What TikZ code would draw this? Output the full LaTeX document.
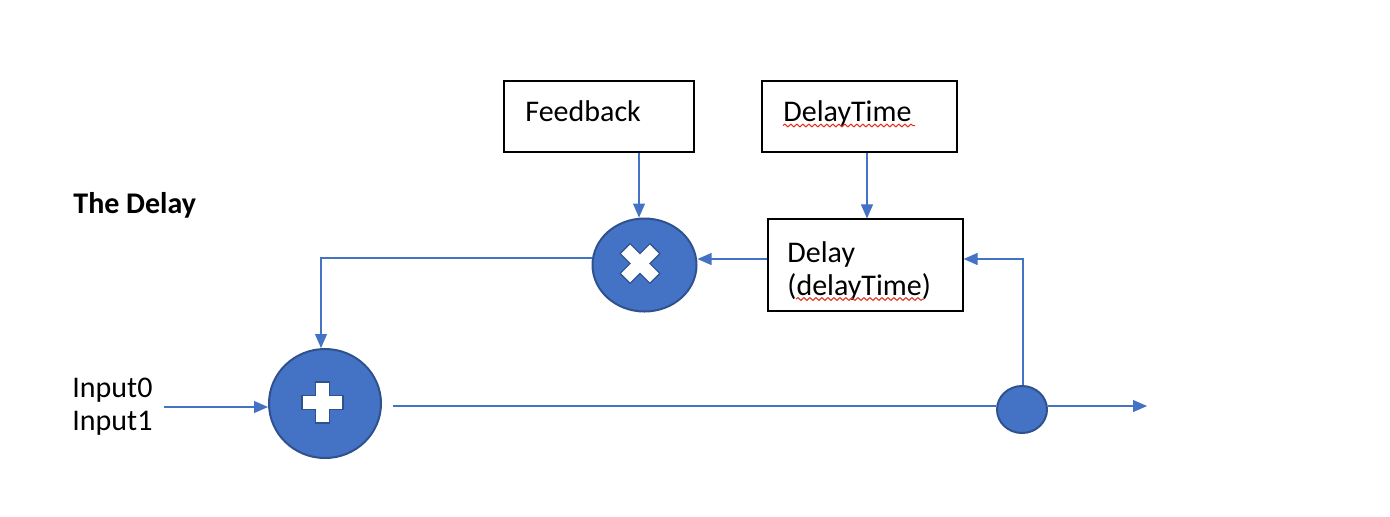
\documentclass[tikz,border=0pt]{standalone}
\usepackage{fontspec}
\setmainfont{Carlito}
\usetikzlibrary{arrows.meta,shapes.geometric,decorations.pathmorphing}
\definecolor{accent}{HTML}{4472C4}
\definecolor{rim}{HTML}{2F528F}
\definecolor{spell}{HTML}{E0301E}
\begin{document}
\begin{tikzpicture}[x=0.5pt,y=-0.5pt,
  box/.style={draw=black,line width=0.6pt,rectangle,inner sep=0pt},
  opnode/.style={ellipse,draw=rim,fill=accent,line width=1pt,inner sep=0pt},
  lbl/.style={inner sep=0pt,anchor=base west,font=\fontsize{15pt}{16.5pt}\selectfont},
  wire/.style={draw=accent,line width=0.55pt},
  arr/.style={wire,-{Triangle[length=7pt,width=6pt]}},
  sym/.style={fill=white,draw=rim,line width=0.6pt,line join=miter},
  wavy/.style={draw=spell,line width=0.5pt,decorate,decoration={snake,segment length=3pt,amplitude=0.7pt}}]
\useasboundingbox (0,0) rectangle (1390,516);

% boxes
\node[box,minimum width=95pt,minimum height=35.5pt] (fb) at (599,116.5) {};
\node[box,minimum width=97.5pt,minimum height=35.5pt] (dt) at (859.5,116.5) {};
\node[box,minimum width=97.5pt,minimum height=46pt] (dl) at (865.5,265) {};

% labels
\node[lbl] (fbt) at (525,121) {Feedback};
\node[lbl] (dtt) at (783,121) {DelayTime};
\node[lbl] (dlt1) at (787,262) {Delay};
\node[lbl] (dlt2) at (787,295) {(delayTime)};
\node[lbl,font=\fontsize{15pt}{16.5pt}\selectfont\bfseries] (title) at (73,213) {The Delay};
\node[lbl] (in0) at (72,397) {Input0};
\node[lbl] (in1) at (72,430) {Input1};

% spell-check underlines
\draw[wavy] (783,125.5) -- (915,125.5);
\draw[wavy] (796,299) -- (924,299);

% operator nodes
\node[opnode,minimum width=52pt,minimum height=46.5pt] (mul) at (644.5,265) {};
\node[opnode,minimum width=56pt,minimum height=54.5pt] (add) at (325,403.5) {};
\node[opnode,minimum width=25pt,minimum height=23.5pt] (tap) at (1022,409.5) {};

% plus symbol
\begin{scope}[shift={(add.center)},shift={(-2.5,-1)}]
  \path[sym] (-20.5,-7) -- (-7,-7) -- (-7,-20.5) -- (7,-20.5) -- (7,-7) -- (20.5,-7)
    -- (20.5,7) -- (7,7) -- (7,20.5) -- (-7,20.5) -- (-7,7) -- (-20.5,7) -- cycle;
\end{scope}
% times symbol
\begin{scope}[shift={(mul.center)},shift={(-4.5,-1.5)},rotate=45]
  \path[sym] (-21,-7) -- (-7,-7) -- (-7,-21) -- (7,-21) -- (7,-7) -- (21,-7)
    -- (21,7) -- (7,7) -- (7,21) -- (-7,21) -- (-7,7) -- (-21,7) -- cycle;
\end{scope}

% helper coordinates
\coordinate (xfb) at (639,0);
\coordinate (xdt) at (867,0);
\coordinate (ydl) at (0,259);
\coordinate (yfbk) at (0,258);
\coordinate (xadd) at (321,0);
\coordinate (xtap) at (1023,0);
\coordinate (ymain) at (0,406);
\coordinate (inStart) at (164,407);
\coordinate (addOut) at (393,406);
\coordinate (outEnd) at (1147,406);

% connectors
\draw[arr] (fb.south -| xfb) -- (xfb |- mul.north);
\draw[arr] (dt.south -| xdt) -- (xdt |- dl.north);
\draw[arr] (dl.west |- ydl) -- (mul.east |- ydl);
\draw[arr] (mul.west |- yfbk) -| (xadd |- add.north);
\draw[arr] (inStart) -- (add.west |- inStart);
\draw[wire] (addOut) -- (tap.west |- addOut);
\draw[arr] (tap.east |- outEnd) -- (outEnd);
\draw[arr] (xtap |- tap.north) |- (dl.east |- ydl);
\end{tikzpicture}
\end{document}
